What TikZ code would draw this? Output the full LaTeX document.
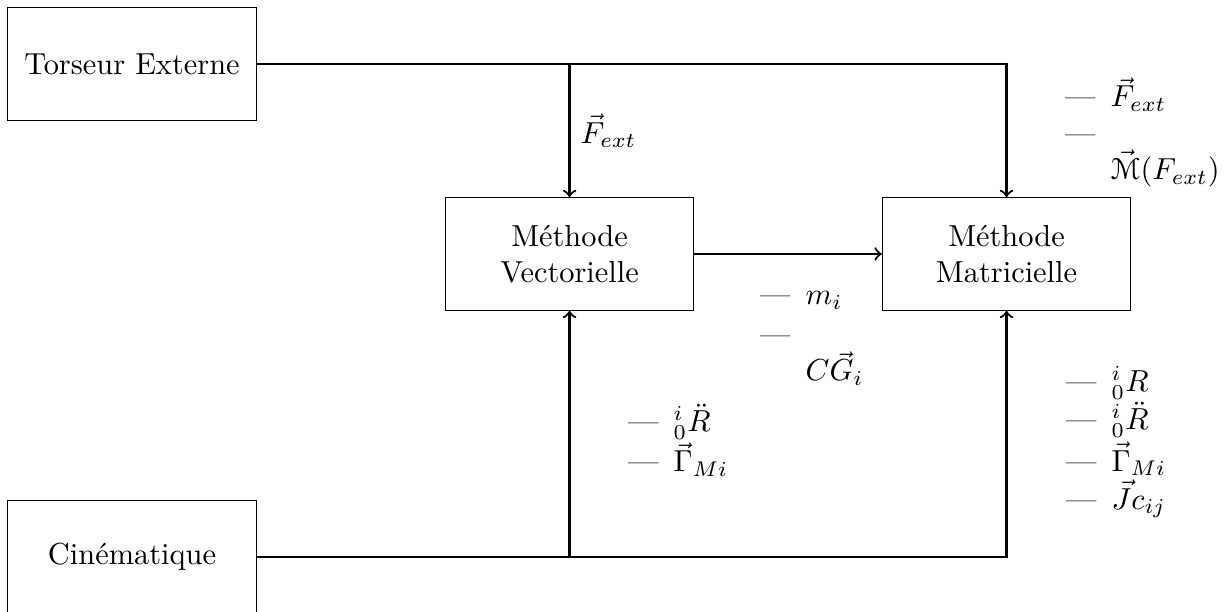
\documentclass[tikz,border=0pt]{standalone}
\usepackage{eucal}

\makeatletter
\def\@listi{\leftmargin\leftmargini
  \labelwidth\leftmargini \advance\labelwidth-\labelsep
  \parsep\z@ \topsep\z@ \partopsep\z@ \itemsep\z@}
\let\@listI\@listi
\makeatother

\tikzset{%
  bloc/.style={
    draw,
    minimum width=2.87cm,
    minimum height=1.3cm,
    align=center
  },
  fleche/.style={
    ->,
    line width=0.7pt
  },
  liste/.style={
    anchor=north west,
    inner sep=0pt,
    text width=2cm
  },
}

\begin{document}
\begin{tikzpicture}[x=1cm, y=1cm, >=to]

\useasboundingbox (0,0) rectangle (14.15,-7.064);

% Blocs
\node [bloc] (torseur) at (1.526,-0.740) {Torseur Externe};
\node [bloc] (cinematique) at (1.526,-6.439) {Cinématique};
\node [bloc] (vectorielle) at (6.584,-2.936) {Méthode\\Vectorielle};
\node [bloc] (matricielle) at (11.636,-2.936) {Méthode\\Matricielle};


% Liaisons
\draw [fleche] (torseur) -| (vectorielle)
	node [pos=0.75, right] {$\vec{F}_{ext}$};
\draw [fleche] (torseur) -| (matricielle);
\draw [fleche] (cinematique) -| (vectorielle);
\draw [fleche] (cinematique) -| (matricielle);
\draw [fleche] (vectorielle) -- (matricielle);


% Grandeurs transmises
\node [liste] (efforts) at (11.954,-0.805) {\begin{itemize}
	\item[\textemdash] $\vec{F}_{ext}$
	\item[\textemdash] \mbox{}\\ $\vec{\mathcal{M}}(F_{ext})$
\end{itemize}};

\node [liste] (masses) at (8.428,-3.095) {\begin{itemize}
	\setlength{\itemsep}{1pt}
	\item[\textemdash] $m_i$
	\item[\textemdash] \mbox{}\\ $C\vec{G}_i$
\end{itemize}};

\node [liste] (cinem-vect) at (6.902,-4.562) {\begin{itemize}
	\item[\textemdash] ${}^{i}_{0}\ddot{R}$
	\item[\textemdash] $\vec{\Gamma}_{Mi}$
\end{itemize}};

\node [liste] (cinem-matr) at (11.965,-4.100) {\begin{itemize}
	\setlength{\itemsep}{0.5pt}
	\item[\textemdash] ${}^{i}_{0}R$
	\item[\textemdash] ${}^{i}_{0}\ddot{R}$
	\item[\textemdash] $\vec{\Gamma}_{Mi}$
	\item[\textemdash] $\vec{J}c_{ij}$
\end{itemize}};

\end{tikzpicture}
\end{document}
